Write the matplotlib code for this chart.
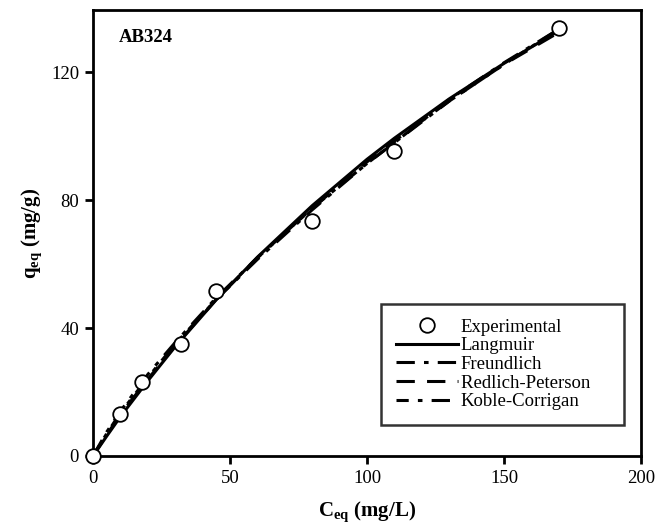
import matplotlib.pyplot as plt

plt.rcParams['font.family'] = ['Liberation Serif', 'DejaVu Serif']
plt.rcParams['mathtext.fontset'] = 'custom'
plt.rcParams['mathtext.rm'] = 'Liberation Serif'
plt.rcParams['mathtext.bf'] = 'Liberation Serif:bold'

# experimental points
c_exp = [0, 10, 18, 32, 45, 80, 110, 170]
q_exp = [0, 13, 23, 35, 51.5, 73.5, 95.5, 134]

# model curves
c_fit = [0, 5, 10, 20, 30, 45, 60, 80, 100, 110, 130, 150, 170]
q_langmuir = [0, 6.2, 12.3, 23.5, 34.2, 48.9, 62.2, 78.3, 92.8, 99.4, 111.7, 122.8, 133]
q_freundlich = [0, 7.5, 14, 25.5, 35.5, 49.5, 62, 77.5, 91.5, 98, 111, 122.5, 133.5]
q_redlich = [0, 6.6, 13, 24, 34.5, 49, 62, 77.5, 92, 98.5, 111, 122.5, 132.5]
q_koble = [0, 7, 13.5, 24.5, 35, 49, 61.5, 77, 91.5, 98, 111.5, 123, 133.5]

fig = plt.figure(figsize=(6.71, 5.26), dpi=100)
ax = fig.add_axes([0.1386, 0.1331, 0.8167, 0.8479])

lw = 2.2
ax.plot(c_fit, q_langmuir, color='black', lw=lw, ls='-', label='Langmuir')
ax.plot(c_fit, q_freundlich, color='black', lw=lw, ls=(0, (6, 3, 1.5, 3)), label='Freundlich')
ax.plot(c_fit, q_redlich, color='black', lw=lw, ls=(0, (6, 4)), label='Redlich-Peterson    ')
ax.plot(c_fit, q_koble, color='black', lw=lw, ls=(2, (6, 3, 1.5, 3)), label='Koble-Corrigan')
ax.plot(c_exp, q_exp, 'o', ms=10.5, mfc='white', mec='black', mew=1.3,
        label='Experimental', zorder=5, clip_on=False)

ax.set_xlim(0, 200)
ax.set_ylim(0, 139.5)
ax.set_xticks([0, 50, 100, 150, 200])
ax.set_yticks([0, 40, 80, 120])
ax.tick_params(direction='out', length=6, width=2, labelsize=13.5, pad=4,
               top=False, right=False)
for s in ax.spines.values():
    s.set_linewidth(2)

ax.set_xlabel(r'$\mathbf{C_{eq}}$ $\mathbf{(mg/L)}$', fontsize=15, labelpad=9)
ax.set_ylabel(r'$\mathbf{q_{eq}}$ $\mathbf{(mg/g)}$', fontsize=15, labelpad=5)
ax.text(9.5, 131, 'AB324', fontsize=13.5, fontweight='bold', va='center')

h, l = ax.get_legend_handles_labels()
order = [4, 0, 1, 2, 3]
leg = ax.legend([h[i] for i in order], [l[i] for i in order], loc='lower right',
                bbox_to_anchor=(0.969, 0.069), fontsize=13.5, frameon=True,
                fancybox=False, edgecolor='black', handlelength=3.3,
                handletextpad=0.15, labelspacing=0.08, borderpad=0.8,
                borderaxespad=0)
leg.get_frame().set_linewidth(1.8)

fig.savefig('out.png', dpi=100)
